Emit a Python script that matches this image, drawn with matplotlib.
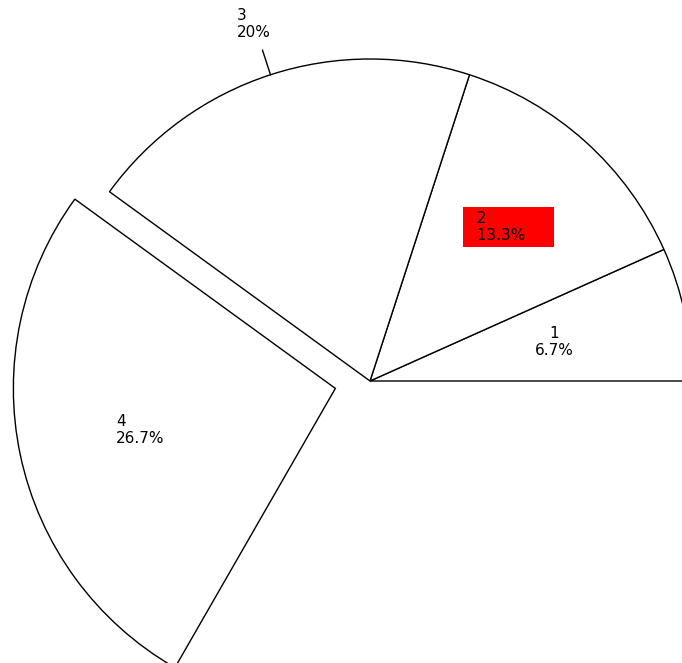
import numpy as np
import matplotlib
matplotlib.use('Agg')
import matplotlib.pyplot as plt

# Verdier (andel av hele sirkelen, i prosent)
navn = ['1', '2', '3', '4']
andel = [6.7, 13.3, 20.0, 26.7]
prosent_tekst = ['6.7%', '13.3%', '20%', '26.7%']
utskutt = [0, 0, 0, 0.11]

fig = plt.figure(figsize=(6.82, 6.63), dpi=100)
ax = fig.add_axes([0, 0, 1, 1])

# Kakediagram med bare en del av sirkelen fylt
ax.pie([a / 100 for a in andel], normalize=False, explode=utskutt,
       startangle=0, counterclock=True, radius=1,
       colors=['white'] * len(andel),
       wedgeprops=dict(edgecolor='black', linewidth=1.0))

# Etiketter ved midtvinkelen til hver bit
etikett_r = [0.585, 0.643, 1.165, 0.62]
start = 0
for i in range(len(andel)):
    midt = np.radians(360 * (start + andel[i] / 2) / 100)
    start += andel[i]
    dx = utskutt[i] * np.cos(midt)
    dy = utskutt[i] * np.sin(midt)
    x = dx + etikett_r[i] * np.cos(midt)
    y = dy + etikett_r[i] * np.sin(midt)
    tekst = navn[i] + '\n' + prosent_tekst[i]
    if i == 1:
        ax.text(x, y, '  ' + navn[i] + '\n  ' + prosent_tekst[i] + '     ',
                ha='center', va='center', multialignment='left',
                fontsize=11, linespacing=1.15,
                bbox=dict(boxstyle='square,pad=0.25', facecolor='#ff0000',
                          edgecolor='none'))
    else:
        ax.text(x, y, tekst, ha='center', va='center',
                multialignment='left' if i != 0 else 'center',
                fontsize=11, linespacing=1.15)
    if etikett_r[i] > 1:
        # strek fra kanten ut til etiketten
        ax.plot([1.0 * np.cos(midt), 1.08 * np.cos(midt)],
                [1.0 * np.sin(midt), 1.08 * np.sin(midt)],
                color='black', linewidth=1.0)

R = 322
ax.set_xlim(-370 / R, 312 / R)
ax.set_ylim(-282 / R, 381 / R)
ax.set_aspect('equal')
ax.axis('off')

fig.savefig('out.png', dpi=100, facecolor='white')
